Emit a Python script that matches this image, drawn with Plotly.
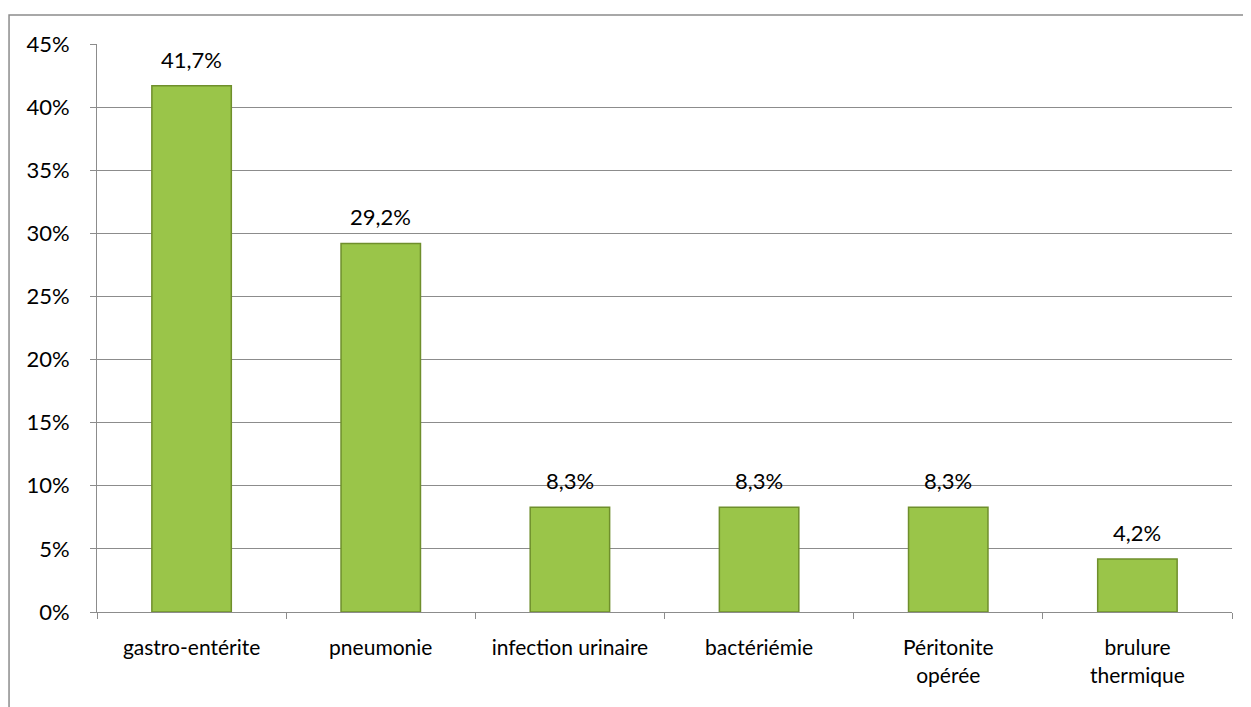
import plotly.graph_objects as go

categories = ["gastro-entérite", "pneumonie", "infection urinaire", "bactériémie",
              "Péritonite<br>opérée", "brulure<br>thermique"]
values = [41.7, 29.2, 8.3, 8.3, 8.3, 4.2]
y_ticks = [0, 5, 10, 15, 20, 25, 30, 35, 40, 45]
y_tick_labels = [f"{v}%" for v in y_ticks]

_FONT = "Lato, 'Open Sans', sans-serif"
_GRID = "#8c8c8c"
_BAR = "#9ac549"
_BAR_EDGE = "#6f8f2c"

labels = [f"{v:.1f}%".replace(".", ",") for v in values]

fig = go.Figure(go.Bar(
    x=categories, y=values,
    marker={"color": _BAR, "line": {"color": _BAR_EDGE, "width": 1.5}},
    width=0.42,
))

# value labels sit a little above each bar
annotations = [
    {"x": c, "y": v, "text": t, "showarrow": False, "yanchor": "bottom",
     "yshift": 11, "font": {"size": 22, "color": "#000000", "family": _FONT}}
    for c, v, t in zip(categories, values, labels)
]

fig.update_layout(
    width=1243, height=699,
    margin={"l": 89, "r": 19, "t": 36, "b": 95, "autoexpand": False},
    paper_bgcolor="white", plot_bgcolor="white",
    font={"family": _FONT, "size": 22, "color": "#000000"},
    showlegend=False,
    annotations=annotations,
    shapes=[{
        "type": "rect", "xref": "paper", "yref": "paper",
        "x0": -0.0775, "x1": 1.1, "y0": -0.3, "y1": 1.051,
        "line": {"color": "#8c8c8c", "width": 1.5}, "fillcolor": "rgba(0,0,0,0)",
        "layer": "below",
    }],
)
fig.update_yaxes(
    range=[0, 45], tickvals=y_ticks, ticktext=y_tick_labels,
    showgrid=True, gridcolor=_GRID, gridwidth=1,
    showline=True, linecolor=_GRID, linewidth=1,
    ticks="outside", ticklen=6, tickcolor=_GRID, ticklabelstandoff=16,
    tickfont={"size": 22}, zeroline=False,
)
fig.update_xaxes(
    showline=True, linecolor=_GRID, linewidth=1,
    ticks="outside", tickson="boundaries", ticklen=6, tickcolor=_GRID,
    ticklabelstandoff=17,
    tickfont={"size": 21}, showgrid=False,
)

fig.write_html("out.html")
